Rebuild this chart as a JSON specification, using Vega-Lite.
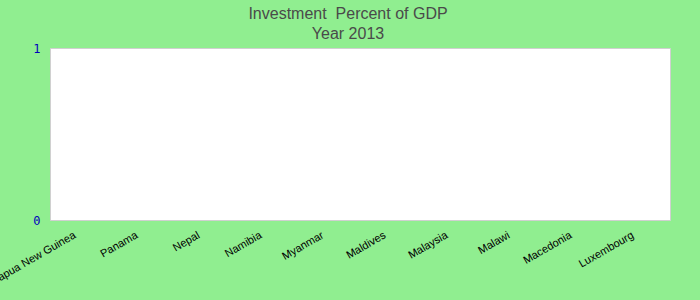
{
  "$schema": "https://vega.github.io/schema/vega-lite/v6.json",
  "autosize": "none",
  "width": 620,
  "height": 172,
  "padding": {"left": 50, "top": 48, "right": 30, "bottom": 80},
  "background": "#90EE90",
  "title": {
    "text": ["Investment\u00a0 Percent of GDP", "Year 2013"],
    "font": "Liberation Sans",
    "fontSize": 16,
    "fontWeight": "normal",
    "color": "#4a4a4a",
    "anchor": "middle",
    "dx": -12,
    "offset": 0,
    "lineHeight": 20
  },
  "data": {
    "values": [
      {"country": "Papua New Guinea", "value": 0},
      {"country": "Panama", "value": 0},
      {"country": "Nepal", "value": 0},
      {"country": "Namibia", "value": 0},
      {"country": "Myanmar", "value": 0},
      {"country": "Maldives", "value": 0},
      {"country": "Malaysia", "value": 0},
      {"country": "Malawi", "value": 0},
      {"country": "Macedonia", "value": 0},
      {"country": "Luxembourg", "value": 0}
    ]
  },
  "mark": {"type": "bar", "color": "#4682b4"},
  "encoding": {
    "x": {
      "field": "country",
      "type": "nominal",
      "sort": null,
      "title": null,
      "axis": {
        "labelAngle": -30,
        "labelAlign": "right",
        "labelBaseline": "top",
        "labelFont": "Liberation Sans",
        "labelFontSize": 11,
        "labelColor": "#000000",
        "labelPadding": 9,
        "labelOffset": -9,
        "ticks": false,
        "domain": false,
        "labelOverlap": false,
        "labelLimit": 0
      }
    },
    "y": {
      "field": "value",
      "type": "quantitative",
      "scale": {"domain": [0, 1]},
      "title": null,
      "axis": {
        "values": [0, 1],
        "format": "d",
        "grid": false,
        "ticks": false,
        "domain": false,
        "labelFont": "DejaVu Sans Mono",
        "labelFontSize": 12,
        "labelColor": "#0000BB",
        "labelPadding": 10
      }
    }
  },
  "config": {
    "view": {"fill": "#ffffff", "stroke": "#d0d0d0", "strokeWidth": 1}
  }
}
